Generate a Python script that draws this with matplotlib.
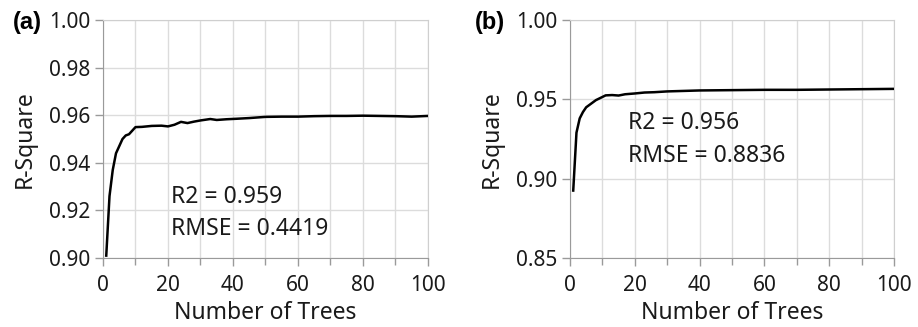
import matplotlib
matplotlib.use("Agg")
import matplotlib.pyplot as plt
from matplotlib.ticker import MultipleLocator

plt.rcParams['font.family'] = ['Noto Sans', 'DejaVu Sans']

# Panel (a)
trees_a = [1, 2, 3, 4, 5, 6, 7, 8, 9, 10, 12, 15, 18, 20, 22, 24, 26, 28, 30, 33, 35,
           38, 41, 45, 50, 55, 60, 65, 70, 75, 80, 85, 90, 95, 100]
r2_a = [0.901, 0.926, 0.937, 0.944, 0.947, 0.950, 0.9515, 0.952, 0.9535, 0.955, 0.9551,
        0.9555, 0.9556, 0.9553, 0.956, 0.9572, 0.9567, 0.9573, 0.9578, 0.9584, 0.958,
        0.9583, 0.9585, 0.9588, 0.9593, 0.9594, 0.9594, 0.9596, 0.9597, 0.9597, 0.9598,
        0.9597, 0.9596, 0.9594, 0.9597]

# Panel (b)
trees_b = [1, 2, 3, 4, 5, 6, 7, 8, 9, 10, 11, 13, 15, 17, 20, 23, 26, 30, 35, 40, 50,
           60, 70, 80, 90, 100]
r2_b = [0.8925, 0.929, 0.938, 0.942, 0.945, 0.9465, 0.948, 0.9495, 0.9505, 0.9515,
        0.9525, 0.9527, 0.9524, 0.9532, 0.9537, 0.9543, 0.9545, 0.955, 0.9553, 0.9556,
        0.9558, 0.956, 0.956, 0.9562, 0.9564, 0.9566]

xticks = [0, 20, 40, 60, 80, 100]
yticks_a = [0.90, 0.92, 0.94, 0.96, 0.98, 1.00]
yticks_b = [0.85, 0.90, 0.95, 1.00]
panel_labels = ["(a)", "(b)"]
notes = [("R2 = 0.959", "RMSE = 0.4419"), ("R2 = 0.956", "RMSE = 0.8836")]

fig = plt.figure(figsize=(9.18, 3.27), dpi=100)
axA = fig.add_axes([0.1122, 0.211, 0.354, 0.7278])
axB = fig.add_axes([0.6209, 0.211, 0.353, 0.7278])

txt = '#1a1a1a'
grid_c = '#dcdcdc'
spine_c = '#9a9a9a'

def style(ax, x, y, yticks, ylim, note, note_pos):
    ax.plot(x, y, color='black', lw=1.8, zorder=3)
    ax.set_xlim(0, 100)
    ax.set_ylim(*ylim)
    ax.set_xticks(xticks)
    ax.xaxis.set_minor_locator(MultipleLocator(10))
    ax.set_yticks(yticks)
    ax.set_yticklabels([f"{v:.2f}" for v in yticks])
    ax.grid(True, which='both', axis='x', color=grid_c, lw=1)
    ax.grid(True, which='major', axis='y', color=grid_c, lw=1)
    ax.set_axisbelow(True)
    for s in ['top', 'right']:
        ax.spines[s].set_color('#cfcfcf')
    for s in ['left', 'bottom']:
        ax.spines[s].set_color(spine_c)
    ax.tick_params(which='both', colors=spine_c, labelcolor=txt, labelsize=15, length=6, width=1)
    ax.tick_params(axis='x', which='major', pad=6)
    ax.tick_params(axis='y', which='major', pad=3)
    ax.tick_params(which='minor', length=5)
    ax.set_xlabel("Number of Trees", fontsize=16.5, color=txt, labelpad=4)
    ax.set_ylabel("R-Square", fontsize=16.5, color=txt, labelpad=9)
    ax.text(note_pos[0], note_pos[1], note[0], fontsize=16.5, color=txt, va='baseline')
    ax.text(note_pos[0], note_pos[2], note[1], fontsize=16.5, color=txt, va='baseline')

style(axA, trees_a, r2_a, yticks_a, (0.90, 1.00), notes[0], (20.9, 0.9231, 0.9097))
style(axB, trees_b, r2_b, yticks_b, (0.85, 1.00), notes[1], (17.8, 0.9311, 0.9107))

fig.text(13/918, 1 - 29/327, panel_labels[0], fontsize=17, fontweight='bold',
         family=['Liberation Sans', 'DejaVu Sans'], color='black', va='baseline')
fig.text(475/918, 1 - 29/327, panel_labels[1], fontsize=17, fontweight='bold',
         family=['Liberation Sans', 'DejaVu Sans'], color='black', va='baseline')

fig.savefig("out.png", dpi=100)
